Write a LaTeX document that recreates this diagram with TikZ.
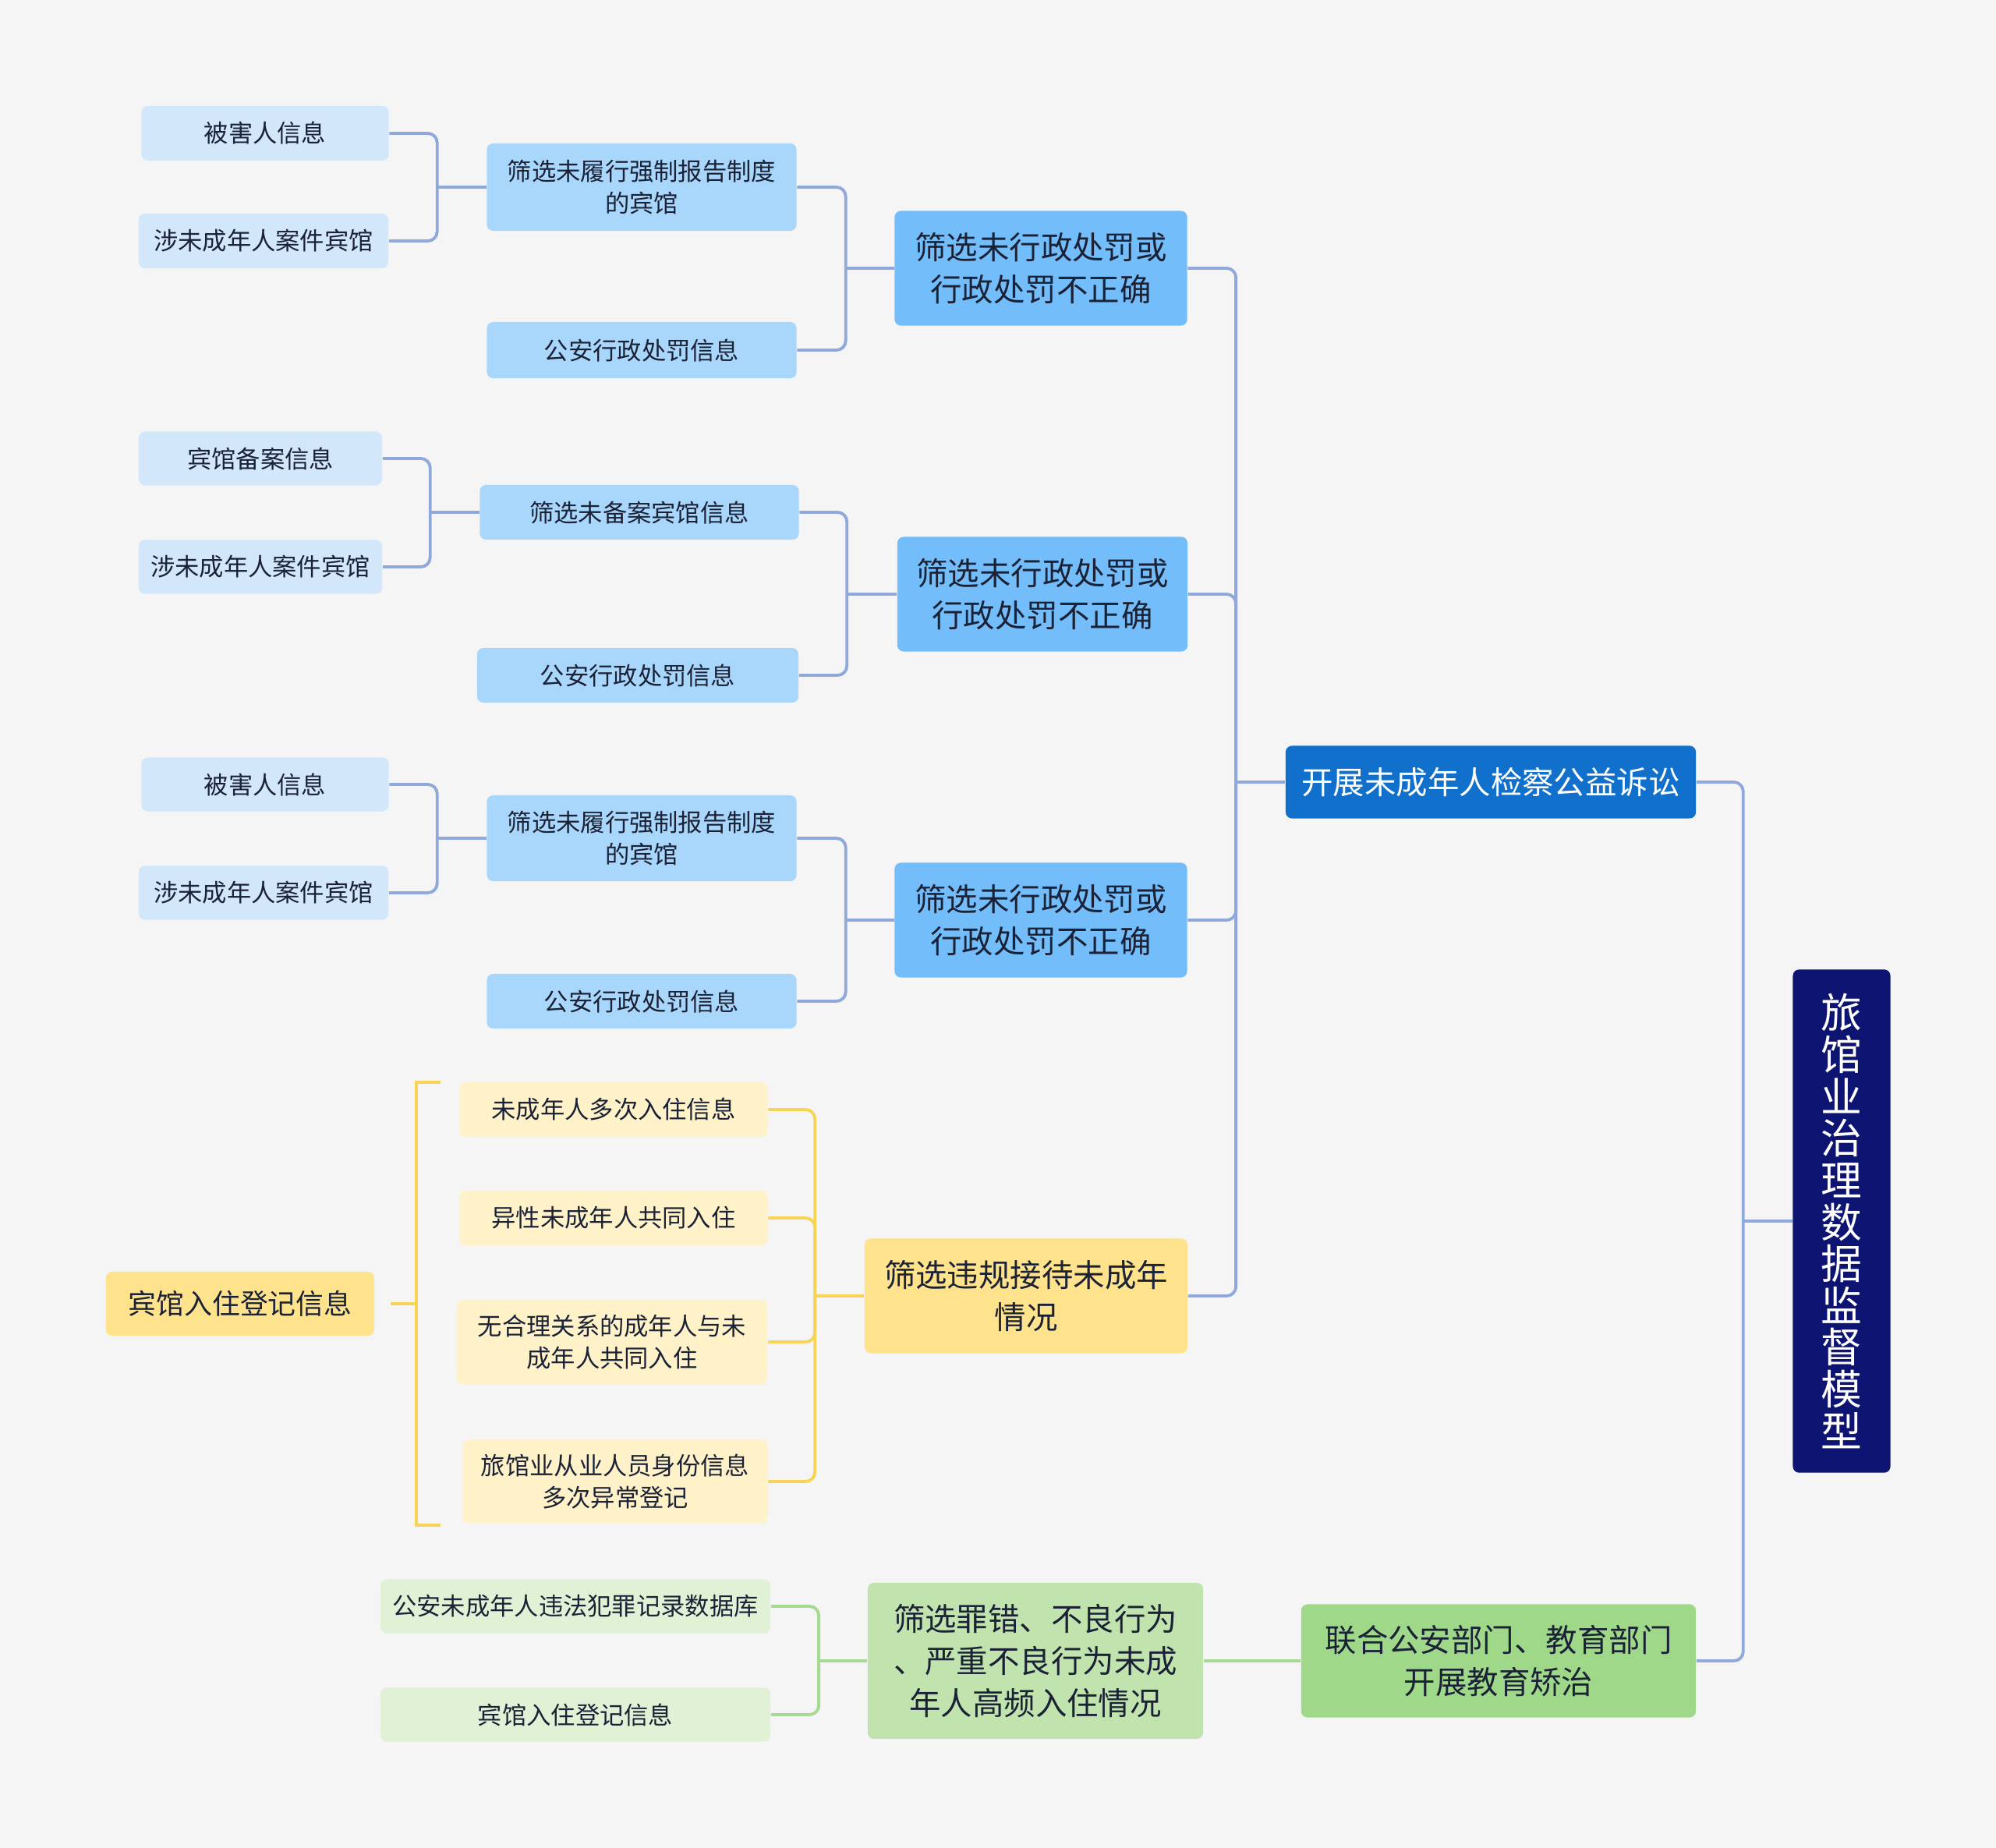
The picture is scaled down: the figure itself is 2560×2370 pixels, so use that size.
\documentclass[tikz,border=0pt]{standalone}
\usepackage{fontspec}
\setmainfont{Noto Sans CJK SC}
\usetikzlibrary{calc}
\definecolor{bgc}{HTML}{F5F5F5}
\definecolor{ink}{HTML}{1B2236}
\definecolor{rootC}{HTML}{0E1472}
\definecolor{blueA}{HTML}{1170CC}
\definecolor{blueB}{HTML}{73BDFA}
\definecolor{blueC}{HTML}{A9D6FB}
\definecolor{blueD}{HTML}{D3E7FA}
\definecolor{yelB}{HTML}{FFE38C}
\definecolor{yelC}{HTML}{FFF2C9}
\definecolor{grnA}{HTML}{A0D88A}
\definecolor{grnB}{HTML}{C1E4AF}
\definecolor{grnC}{HTML}{E0F1D6}
\definecolor{lnBlue}{HTML}{8FA9DB}
\definecolor{lnGrn}{HTML}{A6D992}
\definecolor{lnYel}{HTML}{F8D455}

\begin{document}
\begin{tikzpicture}[x=0.01cm, y=-0.01cm,
  box/.style={rectangle, rounded corners=0.08cm, align=center, text=ink, inner sep=0pt},
  rootbox/.style={box, fill=rootC, text=white, font=\fontsize{15}{15.25}\selectfont},
  lvA/.style={box, font=\fontsize{11.5}{15.3}\selectfont},
  lvB/.style={box, font=\fontsize{11.5}{15.3}\selectfont},
  lvC/.style={box, font=\fontsize{8.9}{11.6}\selectfont},
  lvD/.style={box, fill=blueD, font=\fontsize{8.9}{11.6}\selectfont},
  bline/.style={draw=lnBlue, line width=1.1pt},
  gline/.style={draw=lnGrn, line width=1.1pt},
  yline/.style={draw=lnYel, line width=1.1pt}]
  \fill[bgc] (0,0) rectangle (2560,2370);
  \useasboundingbox (0,0) rectangle (2560,2370);

  % root and main branches
  \node[rootbox, minimum width=1.25cm, minimum height=6.45cm] (root) at (2362,1566)
    {旅\\馆\\业\\治\\理\\数\\据\\监\\督\\模\\型};
  \node[lvA, fill=blueA, text=white, minimum width=5.26cm, minimum height=0.93cm] (A) at (1912,1003)
    {开展未成年人检察公益诉讼};
  \node[lvA, fill=grnA, minimum width=5.06cm, minimum height=1.45cm] (B) at (1922,2130)
    {联合公安部门、教育部门\\开展教育矫治};

  % second level
  \node[lvB, fill=blueB, minimum width=3.75cm, minimum height=1.47cm] (A1) at (1335,344)
    {筛选未行政处罚或\\行政处罚不正确};
  \node[lvB, fill=blueB, minimum width=3.72cm, minimum height=1.47cm] (A2) at (1337,762)
    {筛选未行政处罚或\\行政处罚不正确};
  \node[lvB, fill=blueB, minimum width=3.75cm, minimum height=1.47cm] (A3) at (1335,1180)
    {筛选未行政处罚或\\行政处罚不正确};
  \node[lvB, fill=yelB, minimum width=4.14cm, minimum height=1.47cm] (A4) at (1316,1662)
    {筛选违规接待未成年\\情况};
  \node[lvB, fill=grnB, minimum width=4.30cm, minimum height=2.00cm] (B1) at (1328,2130)
    {筛选罪错、不良行为\\、严重不良行为未成\\年人高频入住情况};

  % third level
  \node[lvC, fill=blueC, minimum width=3.97cm, minimum height=1.12cm] (A1a) at (823,240)
    {筛选未履行强制报告制度\\的宾馆};
  \node[lvC, fill=blueC, minimum width=3.97cm, minimum height=0.72cm] (A1b) at (823,449)
    {公安行政处罚信息};
  \node[lvC, fill=blueC, minimum width=4.09cm, minimum height=0.70cm] (A2a) at (820,657)
    {筛选未备案宾馆信息};
  \node[lvC, fill=blueC, minimum width=4.12cm, minimum height=0.70cm] (A2b) at (818,866)
    {公安行政处罚信息};
  \node[lvC, fill=blueC, minimum width=3.97cm, minimum height=1.10cm] (A3a) at (823,1075)
    {筛选未履行强制报告制度\\的宾馆};
  \node[lvC, fill=blueC, minimum width=3.97cm, minimum height=0.70cm] (A3b) at (823,1284)
    {公安行政处罚信息};
  \node[lvC, fill=yelC, minimum width=3.95cm, minimum height=0.70cm] (A4a) at (787,1423)
    {未成年人多次入住信息};
  \node[lvC, fill=yelC, minimum width=3.95cm, minimum height=0.70cm] (A4b) at (787,1562)
    {异性未成年人共同入住};
  \node[lvC, fill=yelC, minimum width=3.98cm, minimum height=1.08cm] (A4c) at (785,1721)
    {无合理关系的成年人与未\\成年人共同入住};
  \node[lvC, fill=yelC, minimum width=3.91cm, minimum height=1.07cm] (A4d) at (789,1900)
    {旅馆业从业人员身份信息\\多次异常登记};
  \node[lvC, fill=grnC, minimum width=5.00cm, minimum height=0.69cm] (B1a) at (738,2060)
    {公安未成年人违法犯罪记录数据库};
  \node[lvC, fill=grnC, minimum width=5.00cm, minimum height=0.69cm] (B1b) at (738,2199)
    {宾馆入住登记信息};

  % fourth level
  \node[lvD, minimum width=3.17cm, minimum height=0.70cm] (A1a1) at (340,171) {被害人信息};
  \node[lvD, minimum width=3.20cm, minimum height=0.70cm] (A1a2) at (338,309) {涉未成年人案件宾馆};
  \node[lvD, minimum width=3.12cm, minimum height=0.69cm] (A2a1) at (334,588) {宾馆备案信息};
  \node[lvD, minimum width=3.12cm, minimum height=0.69cm] (A2a2) at (334,727) {涉未成年人案件宾馆};
  \node[lvD, minimum width=3.17cm, minimum height=0.69cm] (A3a1) at (340,1006) {被害人信息};
  \node[lvD, minimum width=3.20cm, minimum height=0.69cm] (A3a2) at (338,1145) {涉未成年人案件宾馆};

  % summary
  \node[box, fill=yelB, font=\fontsize{10.2}{12}\selectfont, minimum width=3.44cm, minimum height=0.82cm]
    (sum) at (308,1672) {宾馆入住登记信息};

  % junctions
  \coordinate (jR)  at ($(root.west)+(-63,0)$);
  \coordinate (jA)  at ($(A.west)+(-63,0)$);
  \coordinate (jB)  at ($(B.west)+(-63,0)$);
  \coordinate (jA1) at ($(A1.west)+(-62,0)$);
  \coordinate (jA2) at ($(A2.west)+(-64,0)$);
  \coordinate (jA3) at ($(A3.west)+(-62,0)$);
  \coordinate (jA4) at ($(A4.west)+(-63,0)$);
  \coordinate (jB1) at ($(B1.west)+(-62,0)$);
  \coordinate (jA1a) at ($(A1a.west)+(-63,0)$);
  \coordinate (jA2a) at ($(A2a.west)+(-63,0)$);
  \coordinate (jA3a) at ($(A3a.west)+(-63,0)$);

  % connectors
  \draw[bline] (root.west) -- (jR);
  \draw[bline, rounded corners=0.12cm] (jR) |- (A.east);
  \draw[bline, rounded corners=0.12cm] (jR) |- (B.east);
  \draw[bline] (A.west) -- (jA);
  \foreach \c in {A1,A2,A3,A4}
    \draw[bline, rounded corners=0.12cm] (jA) |- (\c.east);
  \draw[bline] (A1.west) -- (jA1);
  \foreach \c in {A1a,A1b}
    \draw[bline, rounded corners=0.12cm] (jA1) |- (\c.east);
  \draw[bline] (A2.west) -- (jA2);
  \foreach \c in {A2a,A2b}
    \draw[bline, rounded corners=0.12cm] (jA2) |- (\c.east);
  \draw[bline] (A3.west) -- (jA3);
  \foreach \c in {A3a,A3b}
    \draw[bline, rounded corners=0.12cm] (jA3) |- (\c.east);
  \draw[bline] (A1a.west) -- (jA1a);
  \foreach \c in {A1a1,A1a2}
    \draw[bline, rounded corners=0.12cm] (jA1a) |- (\c.east);
  \draw[bline] (A2a.west) -- (jA2a);
  \foreach \c in {A2a1,A2a2}
    \draw[bline, rounded corners=0.12cm] (jA2a) |- (\c.east);
  \draw[bline] (A3a.west) -- (jA3a);
  \foreach \c in {A3a1,A3a2}
    \draw[bline, rounded corners=0.12cm] (jA3a) |- (\c.east);
  \draw[yline] (A4.west) -- (jA4);
  \foreach \c in {A4a,A4b,A4c,A4d}
    \draw[yline, rounded corners=0.12cm] (jA4) |- (\c.east);
  \draw[gline] (B.west) -- (B1.east);
  \draw[gline] (B1.west) -- (jB1);
  \foreach \c in {B1a,B1b}
    \draw[gline, rounded corners=0.12cm] (jB1) |- (\c.east);

  % summary bracket
  \coordinate (bt) at (565,1388);
  \coordinate (bb) at (565,1956);
  \coordinate (bm) at (534,1672);
  \draw[yline] (bt) -- ++(-31,0) |- (bb);
  \draw[yline] ($(sum.east)+(20,0)$) -- (bm);
\end{tikzpicture}
\end{document}
